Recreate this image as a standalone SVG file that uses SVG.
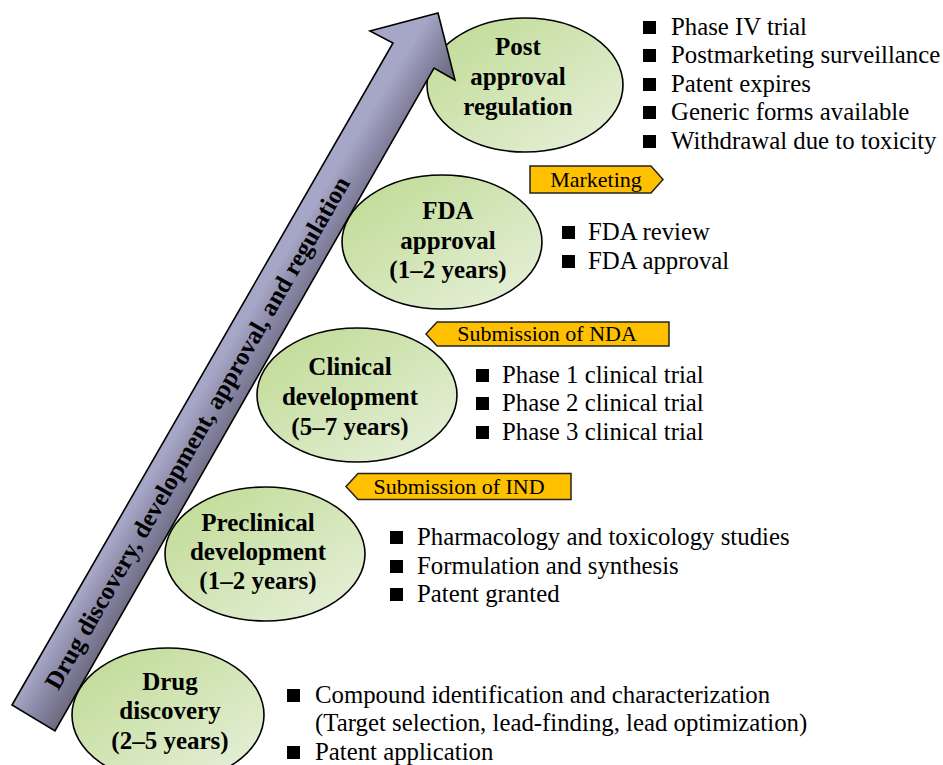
<svg xmlns="http://www.w3.org/2000/svg" width="943" height="765" viewBox="0 0 943 765">
<defs>
<linearGradient id="arrowGrad" gradientUnits="userSpaceOnUse" x1="12" y1="705" x2="55" y2="731">
<stop offset="0" stop-color="#a6a6c6"/>
<stop offset="0.45" stop-color="#8a88a6"/>
<stop offset="1" stop-color="#6c697f"/>
</linearGradient>
<linearGradient id="ellGrad" x1="0" y1="0" x2="1" y2="1">
<stop offset="0.15" stop-color="#c4dd9c"/>
<stop offset="1" stop-color="#e8f1dd"/>
</linearGradient>
<style>
.ell{fill:url(#ellGrad);stroke:#000;stroke-width:1.6}
.lbl{font-family:"Liberation Serif","Times New Roman",serif;font-weight:bold;font-size:25px;fill:#000;text-anchor:middle}
.txt{font-family:"Liberation Serif","Times New Roman",serif;font-size:24.8px;fill:#000}
.tagtxt{font-family:"Liberation Serif","Times New Roman",serif;font-size:22px;fill:#000;text-anchor:middle}
.tag{fill:#FFC000;stroke:#222;stroke-width:1.5}
.bul{fill:#000}
</style>
</defs>

<g id="node-post">
<ellipse class="ell" cx="525" cy="85" rx="98" ry="67"/>
<text class="lbl" x="518" y="55">Post</text>
<text class="lbl" x="518" y="85">approval</text>
<text class="lbl" x="518" y="115">regulation</text>
</g>

<g id="connectors">
<g id="main-arrow">
<polygon points="12,705 393,43 370,31 438,13 455,80 434,68 55,731" fill="url(#arrowGrad)" stroke="#000" stroke-width="1.6" stroke-linejoin="miter"/>
<text transform="translate(197.6,432.9) rotate(-60.1)" x="0" y="8" font-family="'Liberation Serif','Times New Roman',serif" font-weight="bold" font-size="25" text-anchor="middle" fill="#000">Drug discovery, development, approval, and regulation</text>
</g>
</g>

<g id="node-fda">
<ellipse class="ell" cx="442" cy="242" rx="100" ry="67"/>
<text class="lbl" x="448" y="219">FDA</text>
<text class="lbl" x="448" y="249">approval</text>
<text class="lbl" x="448" y="278">(1–2 years)</text>
</g>

<g id="node-clinical">
<ellipse class="ell" cx="357" cy="395" rx="100" ry="67"/>
<text class="lbl" x="350" y="375">Clinical</text>
<text class="lbl" x="350" y="405">development</text>
<text class="lbl" x="350" y="435">(5–7 years)</text>
</g>

<g id="node-preclinical">
<ellipse class="ell" cx="265" cy="554" rx="100" ry="67"/>
<text class="lbl" x="258" y="531">Preclinical</text>
<text class="lbl" x="258" y="560">development</text>
<text class="lbl" x="258" y="589">(1–2 years)</text>
</g>

<g id="node-drug">
<ellipse class="ell" cx="168" cy="715" rx="96" ry="67"/>
<text class="lbl" x="170" y="690">Drug</text>
<text class="lbl" x="170" y="719">discovery</text>
<text class="lbl" x="170" y="749">(2–5 years)</text>
</g>

<g id="tag-marketing">
<polygon class="tag" points="530,166 651,166 663,179.5 651,193 530,193"/>
<text class="tagtxt" x="596" y="187">Marketing</text>
</g>
<g id="tag-nda">
<polygon class="tag" points="437,322 669,322 669,346 437,346 426,334"/>
<text class="tagtxt" x="547" y="341">Submission of NDA</text>
</g>
<g id="tag-ind">
<polygon class="tag" points="358,473.5 571,473.5 571,499.5 358,499.5 346,486.5"/>
<text class="tagtxt" x="459" y="494">Submission of IND</text>
</g>

<g id="list-post">
<rect class="bul" x="643" y="21" width="13" height="13"/>
<rect class="bul" x="643" y="49" width="13" height="13"/>
<rect class="bul" x="643" y="78" width="13" height="13"/>
<rect class="bul" x="643" y="106" width="13" height="13"/>
<rect class="bul" x="643" y="135" width="13" height="13"/>
<text class="txt" x="671" y="35">Phase IV trial</text>
<text class="txt" x="671" y="63">Postmarketing surveillance</text>
<text class="txt" x="671" y="92">Patent expires</text>
<text class="txt" x="671" y="120">Generic forms available</text>
<text class="txt" x="671" y="149">Withdrawal due to toxicity</text>
</g>

<g id="list-fda">
<rect class="bul" x="562" y="226" width="13" height="13"/>
<rect class="bul" x="562" y="255" width="13" height="13"/>
<text class="txt" x="588" y="240">FDA review</text>
<text class="txt" x="588" y="269">FDA approval</text>
</g>

<g id="list-clinical">
<rect class="bul" x="476" y="369" width="13" height="13"/>
<rect class="bul" x="476" y="397" width="13" height="13"/>
<rect class="bul" x="476" y="426" width="13" height="13"/>
<text class="txt" x="502" y="383">Phase 1 clinical trial</text>
<text class="txt" x="502" y="411">Phase 2 clinical trial</text>
<text class="txt" x="502" y="440">Phase 3 clinical trial</text>
</g>

<g id="list-preclinical">
<rect class="bul" x="390" y="531" width="13" height="13"/>
<rect class="bul" x="390" y="560" width="13" height="13"/>
<rect class="bul" x="390" y="588" width="13" height="13"/>
<text class="txt" x="417" y="545">Pharmacology and toxicology studies</text>
<text class="txt" x="417" y="574">Formulation and synthesis</text>
<text class="txt" x="417" y="602">Patent granted</text>
</g>

<g id="list-drug">
<rect class="bul" x="287" y="689" width="13" height="13"/>
<rect class="bul" x="287" y="746" width="13" height="13"/>
<text class="txt" x="315" y="703">Compound identification and characterization</text>
<text class="txt" x="315" y="731">(Target selection, lead-finding, lead optimization)</text>
<text class="txt" x="315" y="760">Patent application</text>
</g>
</svg>
